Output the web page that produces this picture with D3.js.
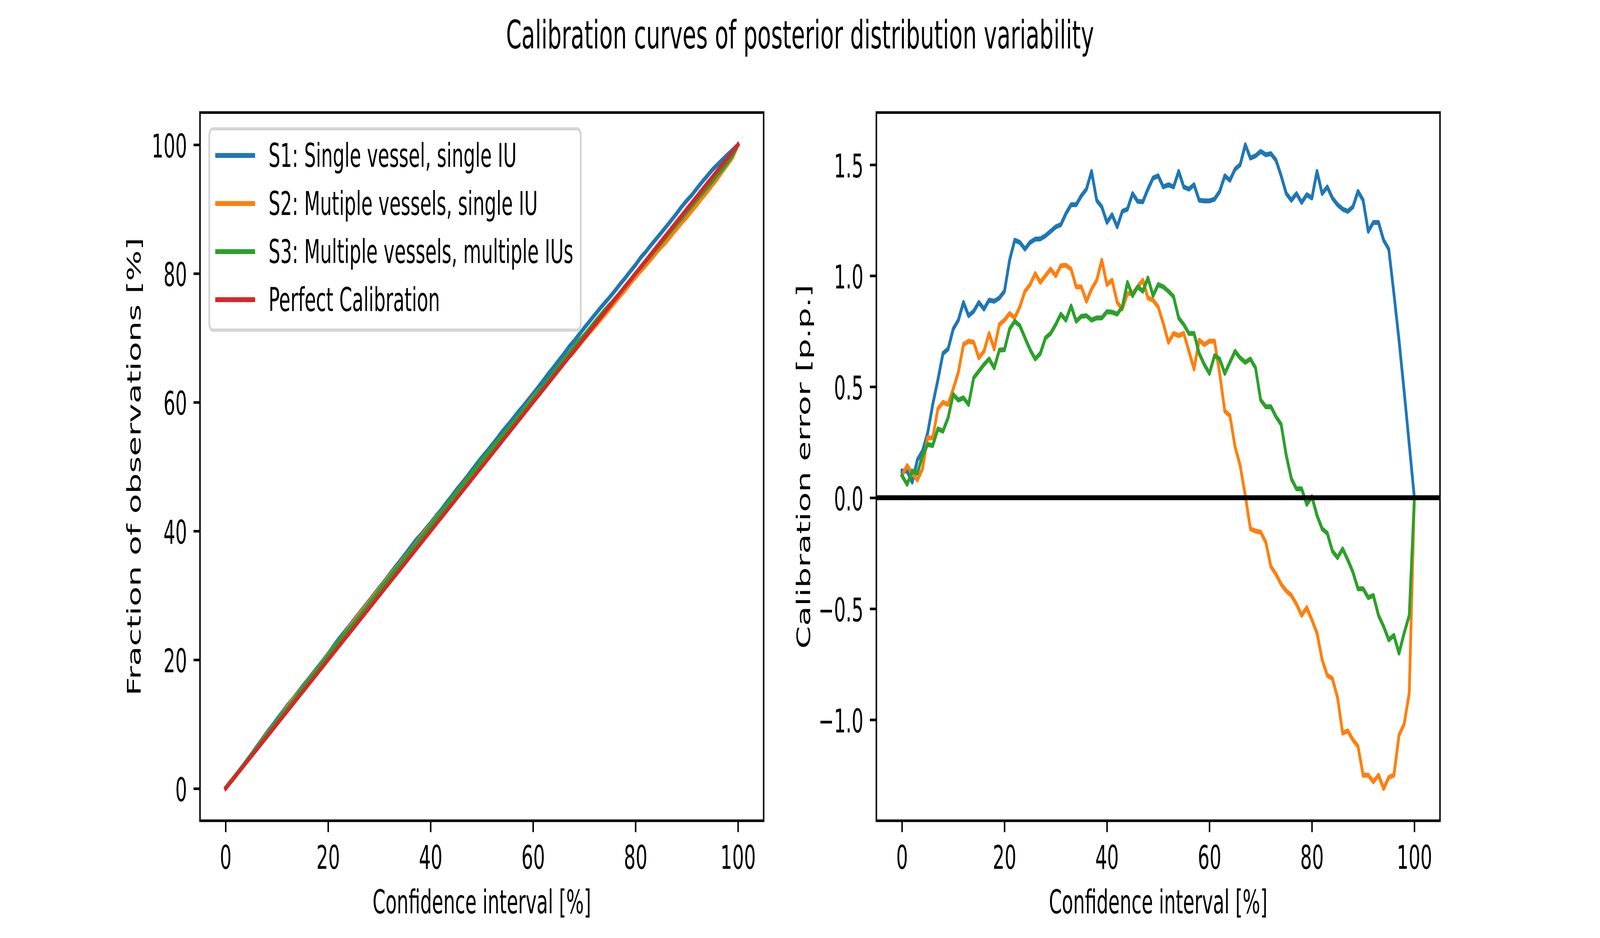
<!DOCTYPE html>
<html>
<head>
<meta charset="utf-8">
<script src="https://cdnjs.cloudflare.com/ajax/libs/d3/7.8.5/d3.min.js"></script>
<style>
    html, body{margin:0;padding:0;background:#fff;overflow:hidden;}
    #canvas{width:100vw;height:100vh;}
    text{font-family:"DejaVu Sans", sans-serif;fill:#000;}
</style>
</head>
<body>
<div id="canvas"></div>
<script>
// confidence interval levels [%]
var ci = [0,1,2,3,4,5,6,7,8,9,10,11,12,13,14,15,16,17,18,19,20,21,22,23,24,25,26,27,28,29,30,
    31,32,33,34,35,36,37,38,39,40,41,42,43,44,45,46,47,48,49,50,51,52,53,54,55,56,57,58,59,60,
    61,62,63,64,65,66,67,68,69,70,71,72,73,74,75,76,77,78,79,80,81,82,83,84,85,86,87,88,89,90,
    91,92,93,94,95,96,97,98,99,100];

// calibration error [p.p.]
var s1Err = [0.12,0.12,0.07,0.17,0.21,0.29,0.42,0.53,0.65,0.67,0.76,0.80,0.88,0.82,0.84,0.88,0.85,0.89,0.885,0.90,
    0.93,1.07,1.16,1.15,1.12,1.15,1.165,1.166,1.18,1.20,1.22,1.23,1.28,1.32,1.32,1.36,1.39,1.47,1.34,1.31,
    1.24,1.275,1.22,1.29,1.30,1.37,1.335,1.333,1.39,1.44,1.45,1.40,1.41,1.40,1.47,1.40,1.39,1.41,1.34,1.337,
    1.337,1.345,1.38,1.45,1.43,1.48,1.50,1.59,1.53,1.54,1.56,1.545,1.55,1.52,1.45,1.37,1.34,1.37,1.33,1.365,
    1.35,1.47,1.37,1.40,1.35,1.32,1.30,1.29,1.31,1.38,1.34,1.20,1.24,1.24,1.16,1.12,0.92,0.71,0.48,0.24,0.0];
var s2Err = [0.10,0.145,0.11,0.08,0.13,0.27,0.27,0.40,0.43,0.42,0.49,0.565,0.69,0.705,0.70,0.63,0.66,0.74,0.67,0.78,
    0.80,0.83,0.81,0.86,0.93,0.96,1.01,0.97,1.00,1.03,1.00,1.045,1.047,1.03,0.95,0.95,0.885,0.94,0.98,1.07,
    0.96,0.98,0.88,0.85,0.92,0.92,0.95,0.98,0.90,0.89,0.86,0.785,0.70,0.74,0.73,0.74,0.66,0.58,0.71,0.69,
    0.705,0.705,0.56,0.39,0.37,0.23,0.145,0.01,-0.14,-0.15,-0.155,-0.20,-0.31,-0.345,-0.39,-0.42,-0.44,-0.48,-0.53,-0.495,
    -0.55,-0.61,-0.73,-0.80,-0.815,-0.90,-1.06,-1.05,-1.09,-1.12,-1.25,-1.25,-1.28,-1.25,-1.31,-1.26,-1.25,-1.07,-1.02,-0.88,0.0];
var s3Err = [0.10,0.06,0.12,0.11,0.19,0.24,0.235,0.31,0.30,0.36,0.465,0.44,0.45,0.42,0.54,0.57,0.60,0.625,0.585,0.665,
    0.667,0.76,0.795,0.775,0.72,0.667,0.625,0.65,0.72,0.74,0.78,0.827,0.80,0.864,0.795,0.817,0.82,0.80,0.81,0.81,
    0.838,0.836,0.827,0.86,0.97,0.91,0.95,0.93,0.99,0.91,0.96,0.95,0.93,0.906,0.81,0.78,0.74,0.74,0.65,0.60,
    0.56,0.64,0.625,0.56,0.61,0.66,0.63,0.61,0.625,0.585,0.44,0.41,0.41,0.365,0.33,0.19,0.085,0.04,0.04,-0.03,
    0.005,-0.08,-0.14,-0.16,-0.24,-0.27,-0.23,-0.28,-0.335,-0.41,-0.41,-0.45,-0.44,-0.53,-0.58,-0.64,-0.62,-0.70,-0.61,-0.53,0.0];

var seriesNames = ["S1: Single vessel, single IU", "S2: Mutiple vessels, single IU",
    "S3: Multiple vessels, multiple IUs", "Perfect Calibration"];
var seriesColors = ["#1f77b4", "#ff7f0e", "#2ca02c", "#d62728"];

var xTicks = [0,20,40,60,80,100];
var leftYTicks = [0,20,40,60,80,100];
var rightYTicks = [-1.0,-0.5,0.0,0.5,1.0,1.5];

var titleText = "Calibration curves of posterior distribution variability";
var xLabel = "Confidence interval [%]";
var leftYLabel = "Fraction of observations [%]";
var rightYLabel = "Calibration error [p.p.]";

// figure is 12x4 in at 600 dpi
var W = 7200, H = 2400, pt = 600/72;
var fs = 10*pt;
var axTop = 288, axBottom = 2100;
var axW = (6480 - 900)/2.2;
var leftX0 = 900, rightX0 = 900 + axW*1.2;

// stretch the figure over the whole window, like the 7200x2400 canvas
var svg = d3.select('#canvas').append('svg')
    .attr('viewBox', '0 0 '+W+' '+H)
    .attr('preserveAspectRatio', 'none')
    .style('width','100%').style('height','100%')
    .style('display','block');

svg.append('text')
    .attr('x', W/2).attr('y', 124)
    .attr('text-anchor','middle')
    .style('font-size', (12*pt)+'px')
    .text(titleText);

function pad(ext){
    var d = (ext[1]-ext[0])*0.05;
    return [ext[0]-d, ext[1]+d];
}

// left panel: observed fraction = interval + error
var errs = [s1Err, s2Err, s3Err];
var leftSeries = errs.map(function(e){
    return ci.map(function(c,i){ return {x:c, y:c + e[i]}; });
});
leftSeries.push(ci.map(function(c){ return {x:c, y:c}; }));

var rightSeries = errs.map(function(e){
    return ci.map(function(c,i){ return {x:c, y:e[i]}; });
});

var allLeft = [].concat.apply([], leftSeries).map(function(d){return d.y;});
var allRight = [].concat.apply([], rightSeries).map(function(d){return d.y;});

function drawPanel(id, x0, series, yDomain, yTicks, yFmt, yLabel, yLabelX, zeroLine){
    var x = d3.scaleLinear().domain(pad(d3.extent(ci))).range([x0, x0+axW]);
    var y = d3.scaleLinear().domain(yDomain).range([axBottom, axTop]);

    svg.append('clipPath').attr('id','clip'+id)
        .append('rect')
        .attr('x', x0).attr('y', axTop).attr('width', axW).attr('height', axBottom-axTop);

    var plot = svg.append('g').attr('clip-path','url(#clip'+id+')');

    var line = d3.line()
        .x(function(d){return x(d.x);})
        .y(function(d){return y(d.y);});

    plot.selectAll('.series')
        .data(series)
        .enter()
        .append('path')
        .attr('class','series')
        .attr('d', line)
        .style('fill','none')
        .style('stroke', function(d,i){return seriesColors[i];})
        .style('stroke-width', 1.5*pt)
        .style('stroke-linejoin','round')
        .style('stroke-linecap','square');

    if(zeroLine){
        plot.append('line')
            .attr('x1', x0).attr('x2', x0+axW)
            .attr('y1', y(0)).attr('y2', y(0))
            .style('stroke','#000')
            .style('stroke-width', 1.5*pt);
    }

    // axes
    var xAxis = d3.axisBottom(x).tickValues(xTicks).tickSize(3.5*pt).tickPadding(35)
        .tickFormat(d3.format('d'));
    var gx = svg.append('g').attr('transform','translate(0,'+axBottom+')').call(xAxis);

    var yAxis = d3.axisLeft(y).tickValues(yTicks).tickSize(3.5*pt).tickPadding(3.5*pt)
        .tickFormat(yFmt);
    var gy = svg.append('g').attr('transform','translate('+x0+',0)').call(yAxis);

    [gx, gy].forEach(function(g){
        g.select('.domain').remove();
        g.selectAll('.tick line').style('stroke','#000').style('stroke-width', 0.8*pt);
        g.selectAll('.tick text')
            .style('font-size', fs+'px')
            .style('font-family','"DejaVu Sans", sans-serif')
            .attr('fill','#000');
    });
    gy.selectAll('.tick text').attr('dy','0.38em');

    // spines
    svg.append('rect')
        .attr('x', x0).attr('y', axTop)
        .attr('width', axW).attr('height', axBottom-axTop)
        .style('fill','none')
        .style('stroke','#000')
        .style('stroke-width', 0.8*pt);

    svg.append('text')
        .attr('x', x0 + axW/2).attr('y', 2337)
        .attr('text-anchor','middle')
        .style('font-size', fs+'px')
        .text(xLabel);

    svg.append('text')
        .attr('transform','translate('+yLabelX+','+((axTop+axBottom)/2)+') rotate(-90)')
        .attr('text-anchor','middle')
        .style('font-size', fs+'px')
        .text(yLabel);

    return {x:x, y:y};
}

var fmtInt = d3.format('d');
var fmtOne = function(d){ return d3.format('.1f')(d).replace('-', '\u2212'); };

drawPanel('L', leftX0, leftSeries, pad([0, d3.max(allLeft)]), leftYTicks, fmtInt, leftYLabel, 632, false);
drawPanel('R', rightX0, rightSeries, pad(d3.extent(allRight)), rightYTicks, fmtOne, rightYLabel, 3646, true);

// legend (upper left of left panel)
var legPad = 0.4*fs, handleLen = 2*fs, handleGap = 0.8*fs, rowH = 123;
var lx = leftX0 + 0.5*fs, ly = axTop + 0.5*fs;
var legend = svg.append('g');
var frame = legend.append('rect')
    .attr('x', lx).attr('y', ly)
    .attr('rx', 0.2*fs).attr('ry', 0.2*fs)
    .style('fill','#fff').style('fill-opacity',0.8)
    .style('stroke','#cccccc').style('stroke-opacity',0.8)
    .style('stroke-width', 1*pt);

var rows = legend.selectAll('.row')
    .data(seriesNames)
    .enter()
    .append('g').attr('class','row')
    .attr('transform', function(d,i){
        return 'translate('+(lx+legPad)+','+(ly+68+i*rowH)+')';
    });
rows.append('line')
    .attr('x1', 0).attr('x2', handleLen)
    .style('stroke', function(d,i){return seriesColors[i];})
    .style('stroke-width', 1.5*pt)
    .style('stroke-linecap','square');
rows.append('text')
    .attr('x', handleLen + handleGap)
    .attr('dy', '0.35em')
    .style('font-size', fs+'px')
    .text(function(d){return d;});

var maxW = 0;
rows.selectAll('text').each(function(){ maxW = Math.max(maxW, this.getComputedTextLength()); });
frame.attr('width', legPad*2 + handleLen + handleGap + maxW)
    .attr('height', 68 + (seriesNames.length-1)*rowH + 78);
</script>
</body>
</html>
